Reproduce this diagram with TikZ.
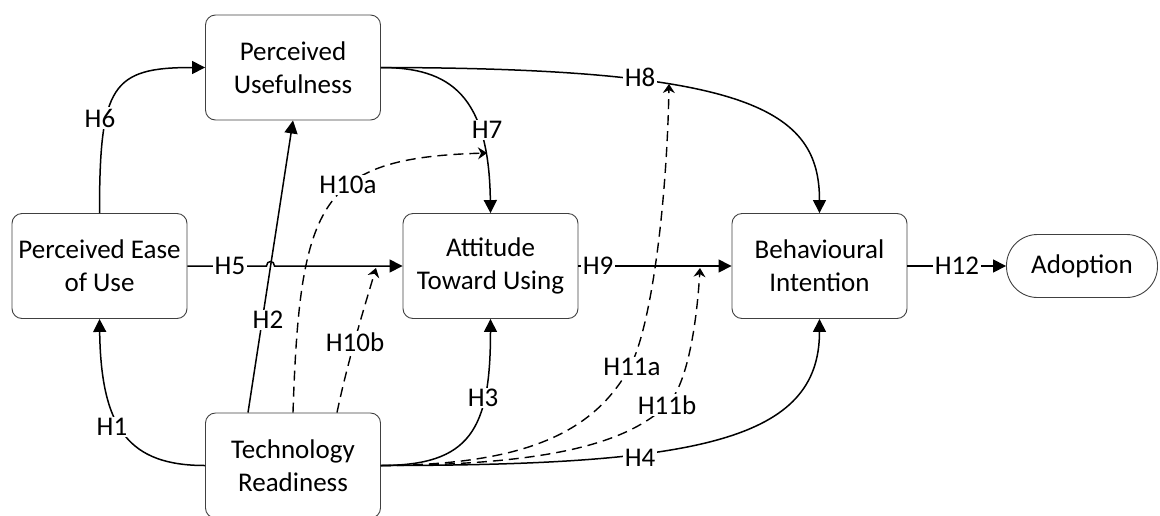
\documentclass[tikz,border=0pt]{standalone}
\usepackage{fontspec}
\setmainfont{Carlito}
\usetikzlibrary{arrows.meta}

\begin{document}
\begin{tikzpicture}[x=1pt,y=-1pt,
  box/.style={draw=black!75, line width=0.9pt, rounded corners=10pt,
    minimum width=175pt, minimum height=105pt, align=center, inner sep=0pt,
    font=\fontsize{27}{33}\selectfont},
  pill/.style={draw=black!75, line width=0.9pt, rounded corners=31pt,
    minimum width=151pt, minimum height=63pt, inner sep=0pt,
    font=\fontsize{27}{33}\selectfont},
  link/.style={line width=1.5pt, -{Triangle[width=13pt,length=13pt]}},
  dlink/.style={line width=1.4pt, dash pattern=on 10pt off 6pt,
    -{Stealth[width=12pt,length=9pt,inset=3pt]}},
  lab/.style={fill=white, inner sep=1.5pt, font=\fontsize{27}{31}\selectfont}
]
\useasboundingbox (0,0) rectangle (1160,515);
\clip (0,0) rectangle (1160,515);

% constructs
\node[box]  (pu)  at (293,67.5)  {Perceived\\Usefulness};
\node[box]  (peu) at (99.5,266)  {Perceived Ease\\of Use};
\node[box]  (atu) at (490.5,266) {Attitude\\Toward Using};
\node[box]  (bi)  at (819.5,266) {Behavioural\\Intention};
\node[box]  (tr)  at (293,465.5) {Technology\\Readiness};
\node[pill] (ad)  at (1082,266)  {Adoption};

% points where moderating paths meet other paths
\coordinate (m10a) at (487,153);
\coordinate (m10b) at (376,268);
\coordinate (m11a) at (669,84);
\coordinate (m11b) at (700,268);

% direct paths
\draw[link] (peu.north) .. controls (99.5,85) and (112,67.5) .. (pu.west);
\draw[link] (tr.west) .. controls (130,465.5) and (101,430) .. (peu.south);
\draw[link] ([xshift=-45pt]tr.north) -- (pu.south);
\draw[link] (peu.east) -- (266.5,266) .. controls (266.5,260) and (274.5,260) .. (274.5,266) -- (atu.west);
\draw[link] (pu.east) .. controls (450,67.5) and (489,95) .. (atu.north);
\draw[link] (pu.east) .. controls (750,68) and (819.5,110) .. (bi.north);
\draw[link] (atu.east) -- (bi.west);
\draw[link] (bi.east) -- (ad.west);
\draw[link] (tr.east) .. controls (470,465.5) and (490.5,430) .. (atu.south);
\draw[link] (tr.east) .. controls (700,465.5) and (819.5,440) .. (bi.south);

% moderating paths
\draw[dlink] (tr.north) .. controls (300,200) and (320,158) .. (m10a);
\draw[dlink] ([xshift=44pt]tr.north) .. controls (348,360) and (365,305) .. (m10b);
\draw[dlink] (tr.east) .. controls (530,465) and (595,430) .. (630,367)
  .. controls (652,325) and (667,200) .. (m11a);
\draw[dlink] (tr.east) .. controls (560,465) and (630,440) .. (667,405)
  .. controls (688,385) and (697,320) .. (m11b);

% hypothesis labels
\node[lab] (l1)   at (112,427) {H1};
\node[lab] (l2)   at (268,320) {H2};
\node[lab] (l3)   at (483,398) {H3};
\node[lab] (l4)   at (640,458) {H4};
\node[lab] (l5)   at (230,266) {H5};
\node[lab] (l6)   at (100,118) {H6};
\node[lab] (l7)   at (487,130) {H7};
\node[lab] (l8)   at (640,77)  {H8};
\node[lab] (l9)   at (598,266) {H9};
\node[lab] (l10a) at (348,185) {H10a};
\node[lab] (l10b) at (355,342) {H10b};
\node[lab] (l11a) at (632,367) {H11a};
\node[lab] (l11b) at (667,405) {H11b};
\node[lab] (l12)  at (957,266) {H12};
\end{tikzpicture}
\end{document}
